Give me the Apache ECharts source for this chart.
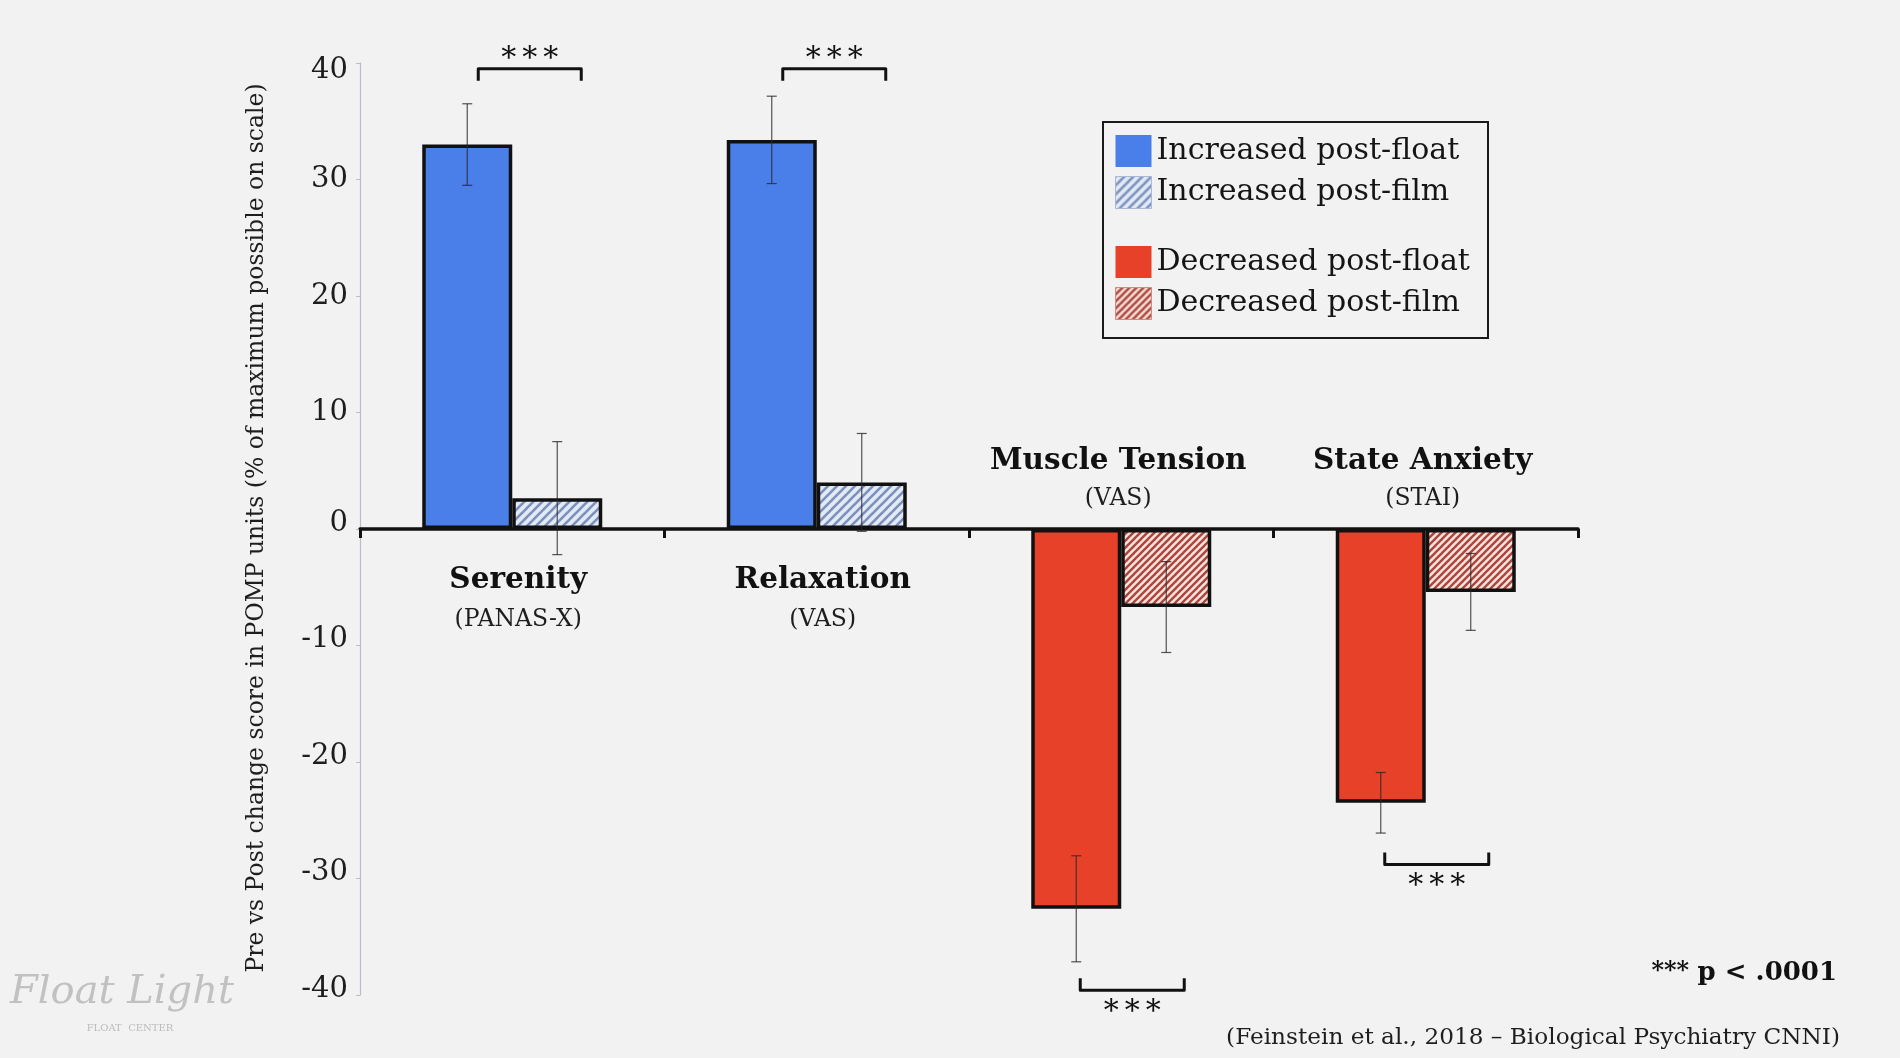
<!DOCTYPE html>
<html>
<head>
<meta charset="utf-8">
<script src="https://cdn.jsdelivr.net/npm/echarts@6/dist/echarts.min.js"></script>
<style>
html,body{margin:0;padding:0;background:#f2f2f2;}
#chart{width:1900px;height:1058px;}
</style>
</head>
<body>
<div id="chart"></div>
<script>
// ---- data ----
const categories = ['Serenity', 'Relaxation', 'Muscle Tension', 'State Anxiety'];
const scales = ['(PANAS-X)', '(VAS)', '(VAS)', '(STAI)'];
const increased = [true, true, false, false];
const floatMeans = [33.0, 33.4, -32.6, -23.5];
const floatErr = [3.5, 3.75, 4.55, 2.6];
const filmMeans = [2.65, 4.0, -6.7, -5.4];
const filmErr = [4.85, 4.2, 3.9, 3.3];
const sigLevel = [39.5, 39.5, -39.6, -28.8];
const sigText = ['***', '***', '***', '***'];
const yTicks = { min: -40, max: 40, interval: 10 };
const seriesNames = ['Increased post-float', 'Increased post-film', 'Decreased post-float', 'Decreased post-film'];

// ---- styling ----
const FONT = "'DejaVu Serif', serif";
const BLUE = '#4a7fea';
const RED = '#e8412a';
const BAR_W = 90;

function hatch(bg, fg, s, w) {
  const c = document.createElement('canvas');
  c.width = s; c.height = s;
  const ctx = c.getContext('2d');
  ctx.fillStyle = bg; ctx.fillRect(0, 0, s, s);
  ctx.strokeStyle = fg; ctx.lineWidth = w;
  for (const k of [-s, 0, s]) {
    ctx.beginPath(); ctx.moveTo(k - 1, s + 1); ctx.lineTo(k + s + 1, -1); ctx.stroke();
  }
  return { image: c, repeat: 'repeat' };
}
const blueHatch = hatch('#e2eaf6', '#7c90bb', 9, 2.6);
const redHatch = hatch('#fbe2da', '#a9463f', 7, 2.4);

const pick = (vals, want) => vals.map((v, i) => increased[i] === want ? v : '-');

const barBase = {
  type: 'bar', barWidth: BAR_W, barGap: '0%',
  itemStyle: { borderColor: '#111', borderWidth: 3.5 },
  emphasis: { disabled: true }
};

const errData = [];
floatMeans.forEach((m, i) => errData.push([i, m, floatErr[i], -1]));
filmMeans.forEach((m, i) => errData.push([i, m, filmErr[i], 1]));

const labelData = categories.map((c, i) => [i, 0]);
const sigData = sigLevel.map((v, i) => [i, v]);

const tickStyle = { fontFamily: FONT, fontSize: 29, color: '#1e1e1e' };

const chart = echarts.init(document.getElementById('chart'));
chart.setOption({
  backgroundColor: '#f2f2f2',
  animation: false,
  grid: { left: 360, right: 322, top: 63, bottom: 63 },
  legend: [
    {
      data: [
        { name: seriesNames[0] },
        { name: seriesNames[1], itemStyle: { borderColor: '#a9b8d8', borderWidth: 1 } }
      ],
      orient: 'vertical', left: 1115, top: 135, padding: 0, icon: 'rect',
      itemWidth: 36, itemHeight: 32, itemGap: 9, selectedMode: false,
      itemStyle: { borderWidth: 0 },
      textStyle: { fontFamily: FONT, fontSize: 30, color: '#151515' }
    },
    {
      data: [
        { name: seriesNames[2] },
        { name: seriesNames[3], itemStyle: { borderColor: '#d08a80', borderWidth: 1 } }
      ],
      orient: 'vertical', left: 1115, top: 246, padding: 0, icon: 'rect',
      itemWidth: 36, itemHeight: 32, itemGap: 9, selectedMode: false,
      itemStyle: { borderWidth: 0 },
      textStyle: { fontFamily: FONT, fontSize: 30, color: '#151515' }
    }
  ],
  xAxis: {
    type: 'category', data: categories,
    axisLine: { onZero: true, lineStyle: { color: '#111', width: 3.5 } },
    axisTick: { show: true, length: 9, lineStyle: { color: '#111', width: 3 } },
    axisLabel: { show: false },
    splitLine: { show: false }
  },
  yAxis: {
    type: 'value', min: yTicks.min, max: yTicks.max, interval: yTicks.interval,
    axisLine: { show: true, lineStyle: { color: '#b9bdc8', width: 1.2 } },
    axisTick: { show: true, length: 4, lineStyle: { color: '#b9bdc8' } },
    splitLine: { show: false },
    axisLabel: {
      fontFamily: FONT, fontSize: 29, color: '#1e1e1e', margin: 12,
      formatter: function (v) {
        if (v === yTicks.max) return '{t|' + v + '}';
        if (v <= 0) return '{n|' + v + '}';
        return '{p|' + v + '}';
      },
      rich: {
        t: Object.assign({ padding: [14, 0, 0, 0] }, tickStyle),
        n: Object.assign({ padding: [0, 0, 12, 0] }, tickStyle),
        p: Object.assign({}, tickStyle)
      }
    }
  },
  graphic: [
    {
      type: 'rect', shape: { x: 1103, y: 122, width: 385, height: 216 },
      style: { fill: 'none', stroke: '#1a1a1a', lineWidth: 2 }, z: 10
    },
    {
      type: 'text', x: 257, y: 528, rotation: Math.PI / 2,
      style: {
        text: 'Pre vs Post change score in POMP units (% of maximum possible on scale)',
        fontFamily: FONT, fontSize: 23.5, fill: '#1e1e1e', align: 'center', verticalAlign: 'middle'
      }
    },
    {
      type: 'text', x: 1837, y: 973,
      style: {
        text: '{s|*** }{b|p < .0001}',
        rich: {
          s: { fontFamily: FONT, fontSize: 24, fontWeight: 'bold', fill: '#111', verticalAlign: 'top' },
          b: { fontFamily: FONT, fontSize: 26, fontWeight: 'bold', fill: '#111' }
        },
        align: 'right', verticalAlign: 'middle'
      }
    },
    {
      type: 'text', x: 1840, y: 1038,
      style: {
        text: '(Feinstein et al., 2018 \u2013 Biological Psychiatry CNNI)',
        fontFamily: FONT, fontSize: 23.2, fill: '#1e1e1e', align: 'right', verticalAlign: 'middle'
      }
    },
    {
      type: 'text', x: 10, y: 993,
      style: {
        text: 'Float Light', fontFamily: "'DejaVu Serif', serif", fontStyle: 'italic',
        fontSize: 40, fill: 'rgba(160,160,160,0.6)', verticalAlign: 'middle'
      }
    },
    {
      type: 'text', x: 130, y: 1028,
      style: {
        text: 'FLOAT  CENTER', fontFamily: FONT, fontSize: 10,
        fill: 'rgba(150,150,150,0.6)', align: 'center', verticalAlign: 'middle'
      }
    }
  ],
  series: [
    Object.assign({}, barBase, { name: seriesNames[0], stack: 'float', data: pick(floatMeans, true), itemStyle: Object.assign({}, barBase.itemStyle, { color: BLUE }) }),
    Object.assign({}, barBase, { name: seriesNames[1], stack: 'film', data: pick(filmMeans, true), itemStyle: Object.assign({}, barBase.itemStyle, { color: blueHatch }) }),
    Object.assign({}, barBase, { name: seriesNames[2], stack: 'float', data: pick(floatMeans, false), itemStyle: Object.assign({}, barBase.itemStyle, { color: RED }) }),
    Object.assign({}, barBase, { name: seriesNames[3], stack: 'film', data: pick(filmMeans, false), itemStyle: Object.assign({}, barBase.itemStyle, { color: redHatch }) }),
    {
      type: 'custom', name: 'err', data: errData, z: 5, clip: false,
      renderItem: function (params, api) {
        const c = api.value(0), m = api.value(1), e = api.value(2), side = api.value(3);
        const hi = api.coord([c, m + e]), lo = api.coord([c, m - e]);
        const x = hi[0] + side * BAR_W / 2;
        const st = { stroke: 'rgba(40,40,40,0.8)', lineWidth: 1.2 };
        return {
          type: 'group', children: [
            { type: 'line', shape: { x1: x, y1: hi[1], x2: x, y2: lo[1] }, style: st },
            { type: 'line', shape: { x1: x - 5, y1: hi[1], x2: x + 5, y2: hi[1] }, style: st },
            { type: 'line', shape: { x1: x - 5, y1: lo[1], x2: x + 5, y2: lo[1] }, style: st }
          ]
        };
      }
    },
    {
      type: 'custom', name: 'sig', data: sigData, z: 5, clip: false,
      renderItem: function (params, api) {
        const i = params.dataIndex;
        const p = api.coord([api.value(0), api.value(1)]);
        const up = increased[i];
        const x1 = p[0] + (up ? -34 : -41), x2 = p[0] + (up ? 69 : 63);
        const y = p[1], d = up ? 12 : -12;
        return {
          type: 'group', children: [
            { type: 'polyline', shape: { points: [[x1, y + d], [x1, y], [x2, y], [x2, y + d]] },
              style: { stroke: '#111', lineWidth: 3, fill: 'none', lineJoin: 'round' } },
            { type: 'text', x: (x1 + x2) / 2, y: up ? y - 10 : y + 22,
              style: { text: sigText[i].split('').join('\u2009'), fontFamily: FONT, fontSize: 30, fill: '#111', align: 'center', verticalAlign: 'middle' } }
          ]
        };
      }
    },
    {
      type: 'custom', name: 'catLabels', data: labelData, z: 6, clip: false,
      renderItem: function (params, api) {
        const i = params.dataIndex;
        const p = api.coord([api.value(0), 0]);
        const up = increased[i];
        const y1 = up ? p[1] + 51 : p[1] - 68;
        const y2 = up ? p[1] + 91 : p[1] - 30;
        const dx = up ? 6 : -3;
        return {
          type: 'group', children: [
            { type: 'text', x: p[0] + dx, y: y1,
              style: { text: categories[i], fontFamily: FONT, fontWeight: 'bold', fontSize: 29.5, fill: '#111', align: 'center', verticalAlign: 'middle' } },
            { type: 'text', x: p[0] + dx, y: y2,
              style: { text: scales[i], fontFamily: FONT, fontSize: 23.5, fill: '#1e1e1e', align: 'center', verticalAlign: 'middle' } }
          ]
        };
      }
    }
  ]
});
</script>
</body>
</html>
